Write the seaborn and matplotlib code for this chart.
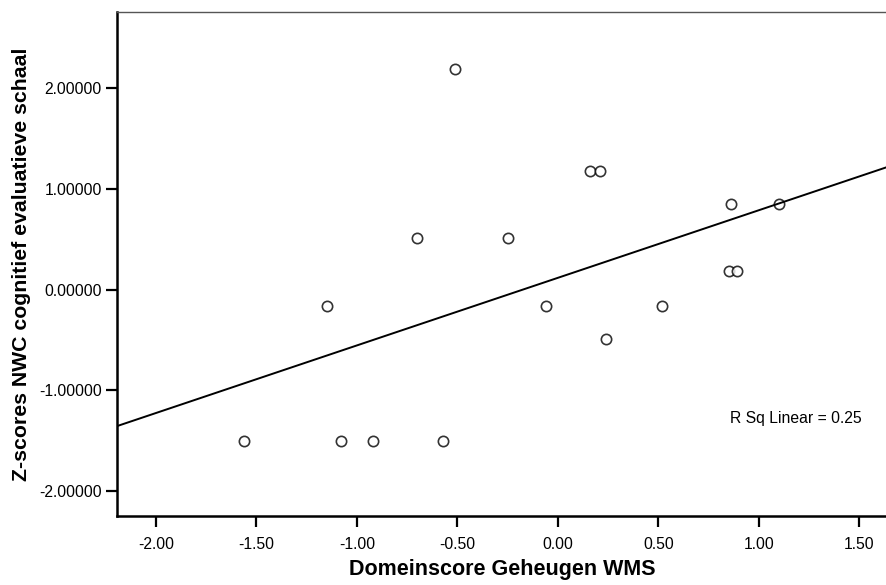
import matplotlib
matplotlib.use("Agg")
import matplotlib.pyplot as plt
import seaborn as sns
import pandas as pd

x_wms = [-0.51, -0.70, 0.16, 0.21, 0.86, 1.10, -0.25, 0.85, 0.89,
         -1.15, -1.56, -1.08, -0.92, -0.57, -0.06, 0.52, 0.24]
y_nwc = [2.19, 0.51, 1.18, 1.18, 0.85, 0.85, 0.51, 0.18, 0.18,
         -0.16, -1.50, -1.50, -1.50, -1.50, -0.16, -0.16, -0.49]
x_ticks = [-2.0, -1.5, -1.0, -0.5, 0.0, 0.5, 1.0, 1.5]
y_ticks = [-2.0, -1.0, 0.0, 1.0, 2.0]
x_label = "Domeinscore Geheugen WMS"
y_label = "Z-scores NWC cognitief evaluatieve schaal"
annotation = "R Sq Linear = 0.25"

df = pd.DataFrame({"x": x_wms, "y": y_nwc})

sns.set_style("white")
plt.rcParams["font.family"] = ["Liberation Sans", "DejaVu Sans"]
plt.rcParams["text.color"] = "black"
plt.rcParams["axes.labelcolor"] = "black"
plt.rcParams["xtick.color"] = "black"
plt.rcParams["ytick.color"] = "black"

fig = plt.figure(figsize=(8.87, 5.85), dpi=100)
ax = fig.add_axes([117/887, 1 - 516/585, 1 - 117/887, (516 - 12)/585])
xlim = (-2.194, 1.637)
ylim = (-2.249, 2.756)
ax.set_xlim(*xlim)
ax.set_ylim(*ylim)
ax.set_autoscale_on(False)

sns.regplot(data=df, x="x", y="y", ax=ax, ci=None, truncate=False,
            scatter_kws=dict(s=55, facecolors="white", edgecolors="black", linewidths=1.2),
            line_kws=dict(color="black", linewidth=1.4),
            marker="o", color="black")
ax.set_xlim(*xlim)
ax.set_ylim(*ylim)

ax.set_xticks(x_ticks)
ax.set_xticklabels([f"{v:.2f}" for v in x_ticks], fontsize=11.3)
ax.set_yticks(y_ticks)
ax.set_yticklabels([f"{v:.5f}" for v in y_ticks], fontsize=11.3)
ax.tick_params(axis="both", direction="out", length=8, width=1.6, color="black",
               bottom=True, left=True, pad=3)
ax.tick_params(axis="x", pad=7)

ax.set_xlabel(x_label, fontsize=15.5, fontweight="bold", labelpad=5)
ax.set_ylabel(y_label, fontsize=15.3, fontweight="bold", labelpad=6)

for side in ["left", "bottom"]:
    ax.spines[side].set_color("black")
    ax.spines[side].set_linewidth(1.8)
ax.spines["top"].set_color("#555555")
ax.spines["top"].set_linewidth(1.0)
ax.spines["right"].set_visible(False)

ax.text(0.856, -1.276, annotation, fontsize=11.3, ha="left", va="center")

fig.savefig("out.png", dpi=100)
